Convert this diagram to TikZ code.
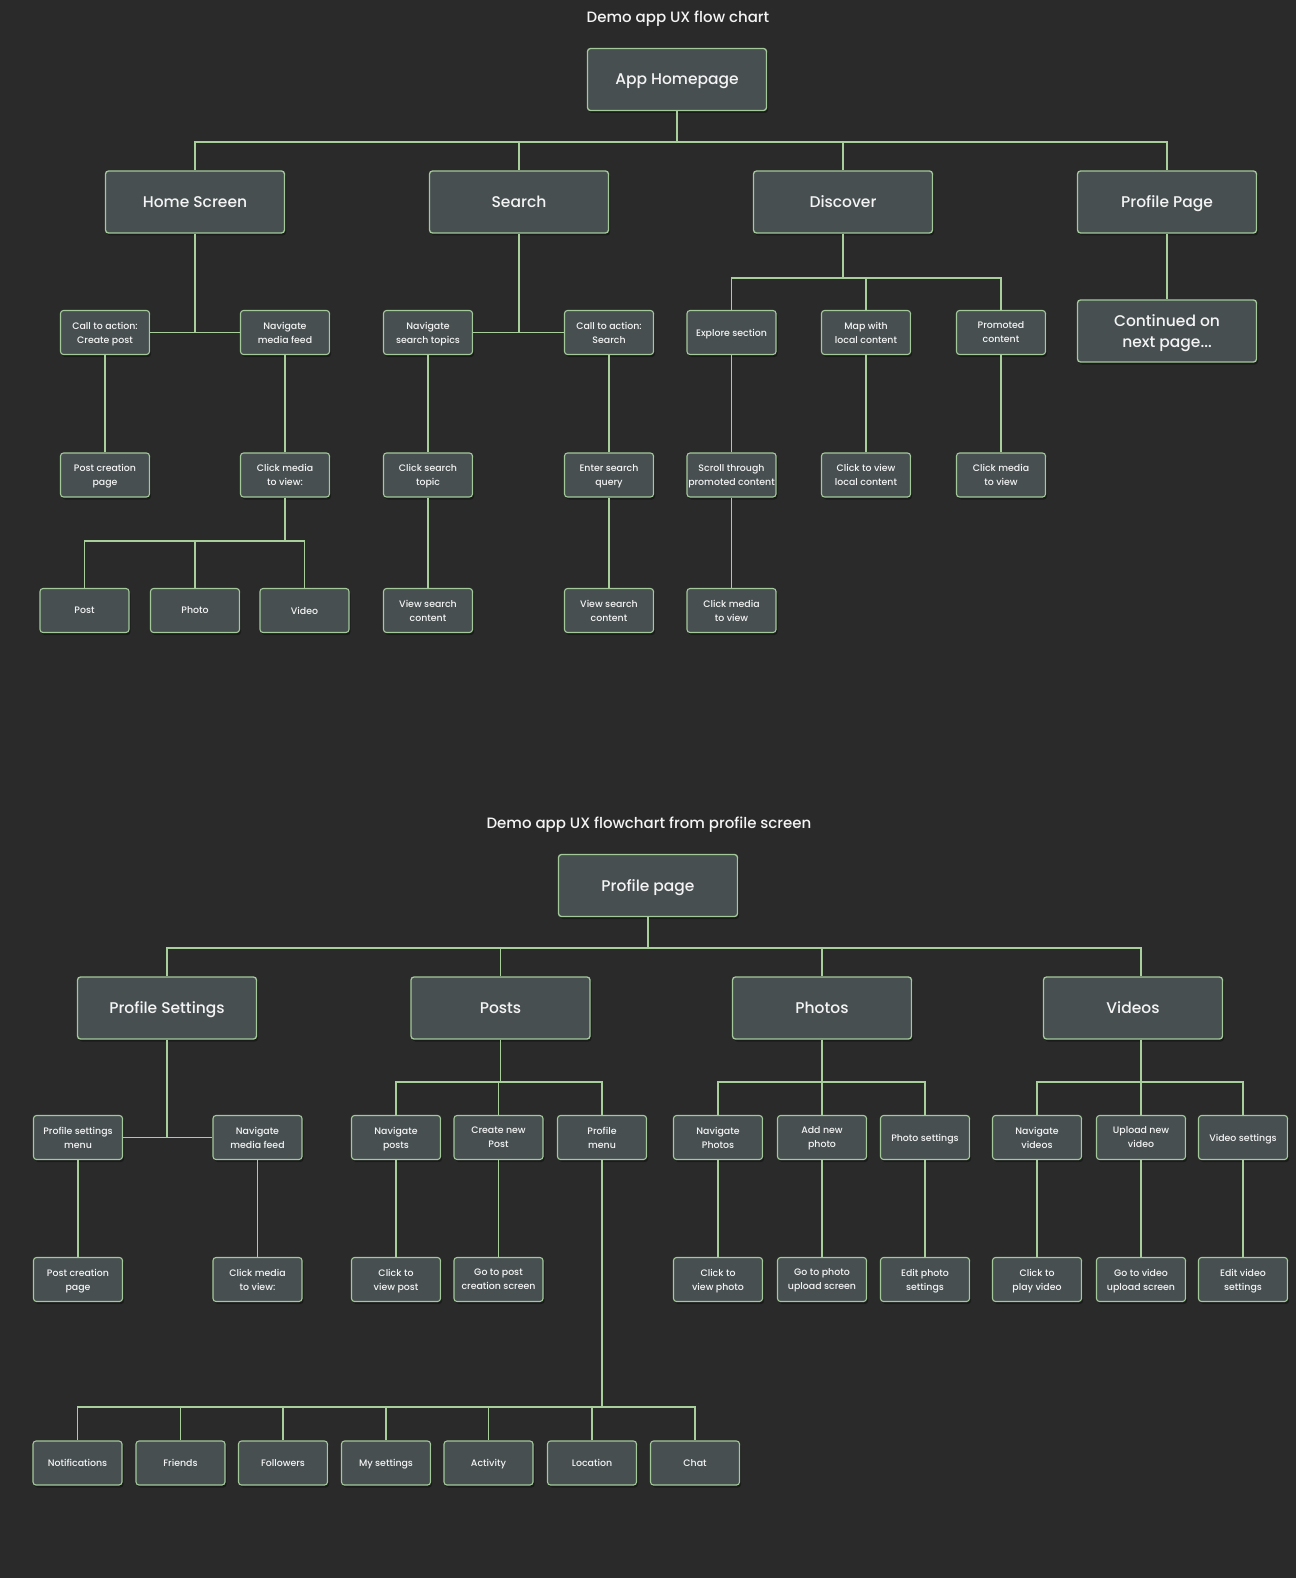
\documentclass[tikz,border=0pt]{standalone}
\usepackage{fontspec}
\setmainfont{Poppins}[UprightFont={* Medium}]
\usetikzlibrary{shadows}
\definecolor{bgc}{HTML}{2A2A2A}
\definecolor{boxc}{HTML}{474F51}
\definecolor{edgec}{HTML}{A3C99A}
\definecolor{linec}{HTML}{A8CE9C}
\definecolor{txtc}{HTML}{F4F4F4}
\tikzset{
  bigbox/.style={draw=edgec, line width=1.3pt, fill=boxc, rounded corners=3pt,
    minimum width=179pt, minimum height=62pt, align=center, text=txtc,
    inner sep=2pt, text depth=0pt, font=\fontsize{15.5}{21}\selectfont,
    drop shadow={shadow xshift=1.5pt, shadow yshift=-2.5pt, opacity=0.35, fill=black}},
  smallbox/.style={draw=edgec, line width=1.1pt, fill=boxc, rounded corners=3pt,
    minimum width=89pt, minimum height=44pt, align=center, text=txtc,
    inner sep=1pt, text depth=0pt, font=\fontsize{9.4}{14}\selectfont,
    drop shadow={shadow xshift=1.5pt, shadow yshift=-2.5pt, opacity=0.35, fill=black}},
  titletext/.style={text=txtc, font=\fontsize{15}{18}\selectfont},
  conn/.style={draw=linec, line width=1.7pt}
}
\begin{document}
\begin{tikzpicture}[x=1pt,y=-1pt]
\fill[bgc] (0,0) rectangle (1296,1578);
\useasboundingbox (0,0) rectangle (1296,1578);

% ---------- top chart ----------
\node[titletext] (t1) at (678,19) {Demo app UX flow chart};
\node[bigbox] (app) at (677,79.5) {App Homepage};
\coordinate (j1) at (0,142);
\node[bigbox] (home) at (195,202) {Home Screen};
\node[bigbox] (search) at (519,202) {Search};
\node[bigbox] (discover) at (843,202) {Discover};
\node[bigbox] (profile) at (1167,202) {Profile Page};

\node[smallbox] (cta1) at (105,332.5) {Call to action:\\Create post};
\node[smallbox] (navmedia) at (285,332.5) {Navigate\\media feed};
\node[smallbox] (postcreate) at (105,475) {Post creation\\page};
\node[smallbox] (clickmedia) at (285,475) {Click media\\to view:};
\coordinate (j2) at (0,541);
\node[smallbox] (post) at (84.5,610.5) {Post};
\node[smallbox] (photo) at (195,610.5) {Photo};
\node[smallbox] (video) at (304.5,610.5) {Video};

\node[smallbox] (navsearch) at (428,332.5) {Navigate\\search topics};
\node[smallbox] (ctasearch) at (609,332.5) {Call to action:\\Search};
\node[smallbox] (clicksearch) at (428,475) {Click search\\topic};
\node[smallbox] (enterquery) at (609,475) {Enter search\\query};
\node[smallbox] (viewsearch1) at (428,610.5) {View search\\content};
\node[smallbox] (viewsearch2) at (609,610.5) {View search\\content};

\coordinate (j3) at (0,278);
\node[smallbox] (explore) at (731.5,332.5) {Explore section};
\node[smallbox] (map) at (866,332.5) {Map with\\local content};
\node[smallbox] (promoted) at (1001,332.5) {Promoted\\content};
\node[smallbox] (scroll) at (731.5,475) {Scroll through\\promoted content};
\node[smallbox] (clicklocal) at (866,475) {Click to view\\local content};
\node[smallbox] (clickmedia2) at (1001,475) {Click media\\to view};
\node[smallbox] (clickmedia3) at (731.5,610.5) {Click media\\to view};

\node[bigbox] (continued) at (1167,331) {Continued on\\next page...};

% connectors top
\foreach \c in {home,search,discover,profile}
  \draw[conn] (app.south) -- (app.south |- j1) -| (\c.north);
\draw[conn] (home.south) -- (home.south |- cta1.east);
\draw[conn] (cta1.east) -- (navmedia.west);
\draw[conn] (cta1.south) -- (postcreate.north);
\draw[conn] (navmedia.south) -- (clickmedia.north);
\foreach \c in {post,photo,video}
  \draw[conn] (clickmedia.south) -- (clickmedia.south |- j2) -| (\c.north);
\draw[conn] (search.south) -- (search.south |- navsearch.east);
\draw[conn] (navsearch.east) -- (ctasearch.west);
\draw[conn] (navsearch.south) -- (clicksearch.north);
\draw[conn] (clicksearch.south) -- (viewsearch1.north);
\draw[conn] (ctasearch.south) -- (enterquery.north);
\draw[conn] (enterquery.south) -- (viewsearch2.north);
\foreach \c in {explore,map,promoted}
  \draw[conn] (discover.south) -- (discover.south |- j3) -| (\c.north);
\draw[conn] (explore.south) -- (scroll.north);
\draw[conn] (scroll.south) -- (clickmedia3.north);
\draw[conn] (map.south) -- (clicklocal.north);
\draw[conn] (promoted.south) -- (clickmedia2.north);
\draw[conn] (profile.south) -- (continued.north);

% ---------- bottom chart ----------
\node[titletext] (t2) at (649,825) {Demo app UX flowchart from profile screen};
\node[bigbox] (profilepage) at (648,885.5) {Profile page};
\coordinate (k1) at (0,948);
\node[bigbox] (psettings) at (167,1008) {Profile Settings};
\node[bigbox] (posts) at (500.5,1008) {Posts};
\node[bigbox] (photos) at (822,1008) {Photos};
\node[bigbox] (videos) at (1133,1008) {Videos};
\coordinate (vtop) at ([xshift=8pt]videos.north);
\coordinate (vbot) at ([xshift=8pt]videos.south);

\node[smallbox] (psmenu) at (78,1137.5) {Profile settings\\menu};
\node[smallbox] (navmedia2) at (257.5,1137.5) {Navigate\\media feed};
\node[smallbox] (postcreate2) at (78,1279.5) {Post creation\\page};
\node[smallbox] (clickmedia4) at (257.5,1279.5) {Click media\\to view:};

\coordinate (k2) at (0,1082);
\node[smallbox] (navposts) at (396,1137.5) {Navigate\\posts};
\node[smallbox] (createpost) at (498.5,1137.5) {Create new\\Post};
\node[smallbox] (profmenu) at (602,1137.5) {Profile\\menu};
\node[smallbox] (clickpost) at (396,1279.5) {Click to\\view post};
\node[smallbox] (gopost) at (498.5,1279.5) {Go to post\\creation screen};

\coordinate (k3) at (0,1407);
\node[smallbox] (notif) at (77.5,1463) {Notifications};
\node[smallbox] (friends) at (180.5,1463) {Friends};
\node[smallbox] (followers) at (283,1463) {Followers};
\node[smallbox] (mysettings) at (386,1463) {My settings};
\node[smallbox] (activity) at (488.5,1463) {Activity};
\node[smallbox] (location) at (592,1463) {Location};
\node[smallbox] (chat) at (695,1463) {Chat};

\node[smallbox] (navphotos) at (718,1137.5) {Navigate\\Photos};
\node[smallbox] (addphoto) at (822,1137.5) {Add new\\photo};
\node[smallbox] (photosettings) at (925,1137.5) {Photo settings};
\node[smallbox] (clickphoto) at (718,1279.5) {Click to\\view photo};
\node[smallbox] (gophoto) at (822,1279.5) {Go to photo\\upload screen};
\node[smallbox] (editphoto) at (925,1279.5) {Edit photo\\settings};

\node[smallbox] (navvideos) at (1037,1137.5) {Navigate\\videos};
\node[smallbox] (uploadvideo) at (1141,1137.5) {Upload new\\video};
\node[smallbox] (videosettings) at (1243,1137.5) {Video settings};
\node[smallbox] (playvideo) at (1037,1279.5) {Click to\\play video};
\node[smallbox] (govideo) at (1141,1279.5) {Go to video\\upload screen};
\node[smallbox] (editvideo) at (1243,1279.5) {Edit video\\settings};

% connectors bottom
\foreach \c in {psettings.north,posts.north,photos.north,vtop}
  \draw[conn] (profilepage.south) -- (profilepage.south |- k1) -| (\c);
\draw[conn] (psettings.south) -- (psettings.south |- psmenu.east);
\draw[conn] (psmenu.east) -- (navmedia2.west);
\draw[conn] (psmenu.south) -- (postcreate2.north);
\draw[conn] (navmedia2.south) -- (clickmedia4.north);
\foreach \c in {navposts,createpost,profmenu}
  \draw[conn] (posts.south) -- (posts.south |- k2) -| (\c.north);
\draw[conn] (navposts.south) -- (clickpost.north);
\draw[conn] (createpost.south) -- (gopost.north);
\foreach \c in {notif,friends,followers,mysettings,activity,location,chat}
  \draw[conn] (profmenu.south) -- (profmenu.south |- k3) -| (\c.north);
\foreach \c in {navphotos,addphoto,photosettings}
  \draw[conn] (photos.south) -- (photos.south |- k2) -| (\c.north);
\draw[conn] (navphotos.south) -- (clickphoto.north);
\draw[conn] (addphoto.south) -- (gophoto.north);
\draw[conn] (photosettings.south) -- (editphoto.north);
\foreach \c in {navvideos,uploadvideo,videosettings}
  \draw[conn] (vbot) -- (vbot |- k2) -| (\c.north);
\draw[conn] (navvideos.south) -- (playvideo.north);
\draw[conn] (uploadvideo.south) -- (govideo.north);
\draw[conn] (videosettings.south) -- (editvideo.north);
\end{tikzpicture}
\end{document}
